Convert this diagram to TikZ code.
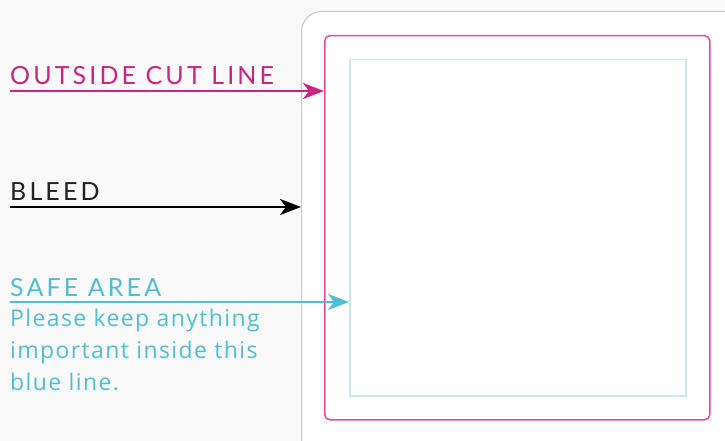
\documentclass[tikz,border=0pt]{standalone}
\usepackage{fontspec}
\setmainfont{Lato}
\newfontfamily\notefont{Open Sans}
\usetikzlibrary{arrows.meta,positioning}
\definecolor{cutpink}{RGB}{233, 72, 155}
\definecolor{cuttext}{RGB}{200, 38, 128}
\definecolor{safeblue}{RGB}{200, 232, 238}
\definecolor{safetext}{RGB}{80, 190, 210}
\definecolor{bleedtext}{RGB}{34, 34, 34}
\definecolor{cardline}{RGB}{200, 200, 200}
\definecolor{paper}{RGB}{249, 249, 249}
\tikzstyle{card} = [draw=cardline, fill=white, line width=1pt, rounded corners=20pt, inner sep=0pt, anchor=north west, minimum width=450pt, minimum height=460pt]
\tikzstyle{cutbox} = [draw=cutpink, line width=1.5pt, rounded corners=5pt, inner sep=0pt, anchor=north west, minimum width=385pt, minimum height=384pt]
\tikzstyle{safebox} = [draw=safeblue, line width=1.5pt, inner sep=0pt, anchor=north west, minimum size=336pt]
\tikzstyle{tag} = [inner sep=0pt, anchor=base west, font=\fontsize{25}{25}\selectfont\addfontfeature{LetterSpace=12.5}]
\tikzstyle{note} = [inner sep=0pt, anchor=north west, align=left, font=\notefont\fontsize{23}{32}\selectfont\addfontfeature{LetterSpace=6}]
\tikzstyle{pointer} = [draw, line width=2.5pt, -{Stealth[length=21pt, width=16pt, inset=6pt]}]

\begin{document}
\begin{tikzpicture}[x=1pt, y=-1pt]

\fill[paper] (0,0) rectangle (725,441);
\useasboundingbox (0,0) rectangle (725,441);
\clip (0,0) rectangle (725,441);

% the sheet =============================

\node[card] (sheet) at (301,11) {};
\node[cutbox] (cut) at (324,35) {};
\node[safebox] (safe) at (349,59) {};

% labels on the left
\coordinate (cutstart) at (10,91);
\coordinate (bleedstart) at (10,207);
\coordinate (safestart) at (10,302);
\node[tag, text=cuttext] (cutlabel) at (10,85) {OUTSIDE CUT LINE};
\node[tag, text=bleedtext] (bleedlabel) at (10,200) {BLEED};
\node[tag, text=safetext] (safelabel) at (10,296) {SAFE AREA};
\node[note, text=safetext] (safenote) at (10,309) {Please keep anything\\important inside this\\blue line.};

% arrows
\path[pointer, draw=cuttext] (cutstart) -- (cutstart -| cut.west);
\path[pointer, draw=black] (bleedstart) -- (bleedstart -| sheet.west);
\path[pointer, draw=safetext] (safestart) -- (safestart -| safe.west);

\end{tikzpicture}
\end{document}
